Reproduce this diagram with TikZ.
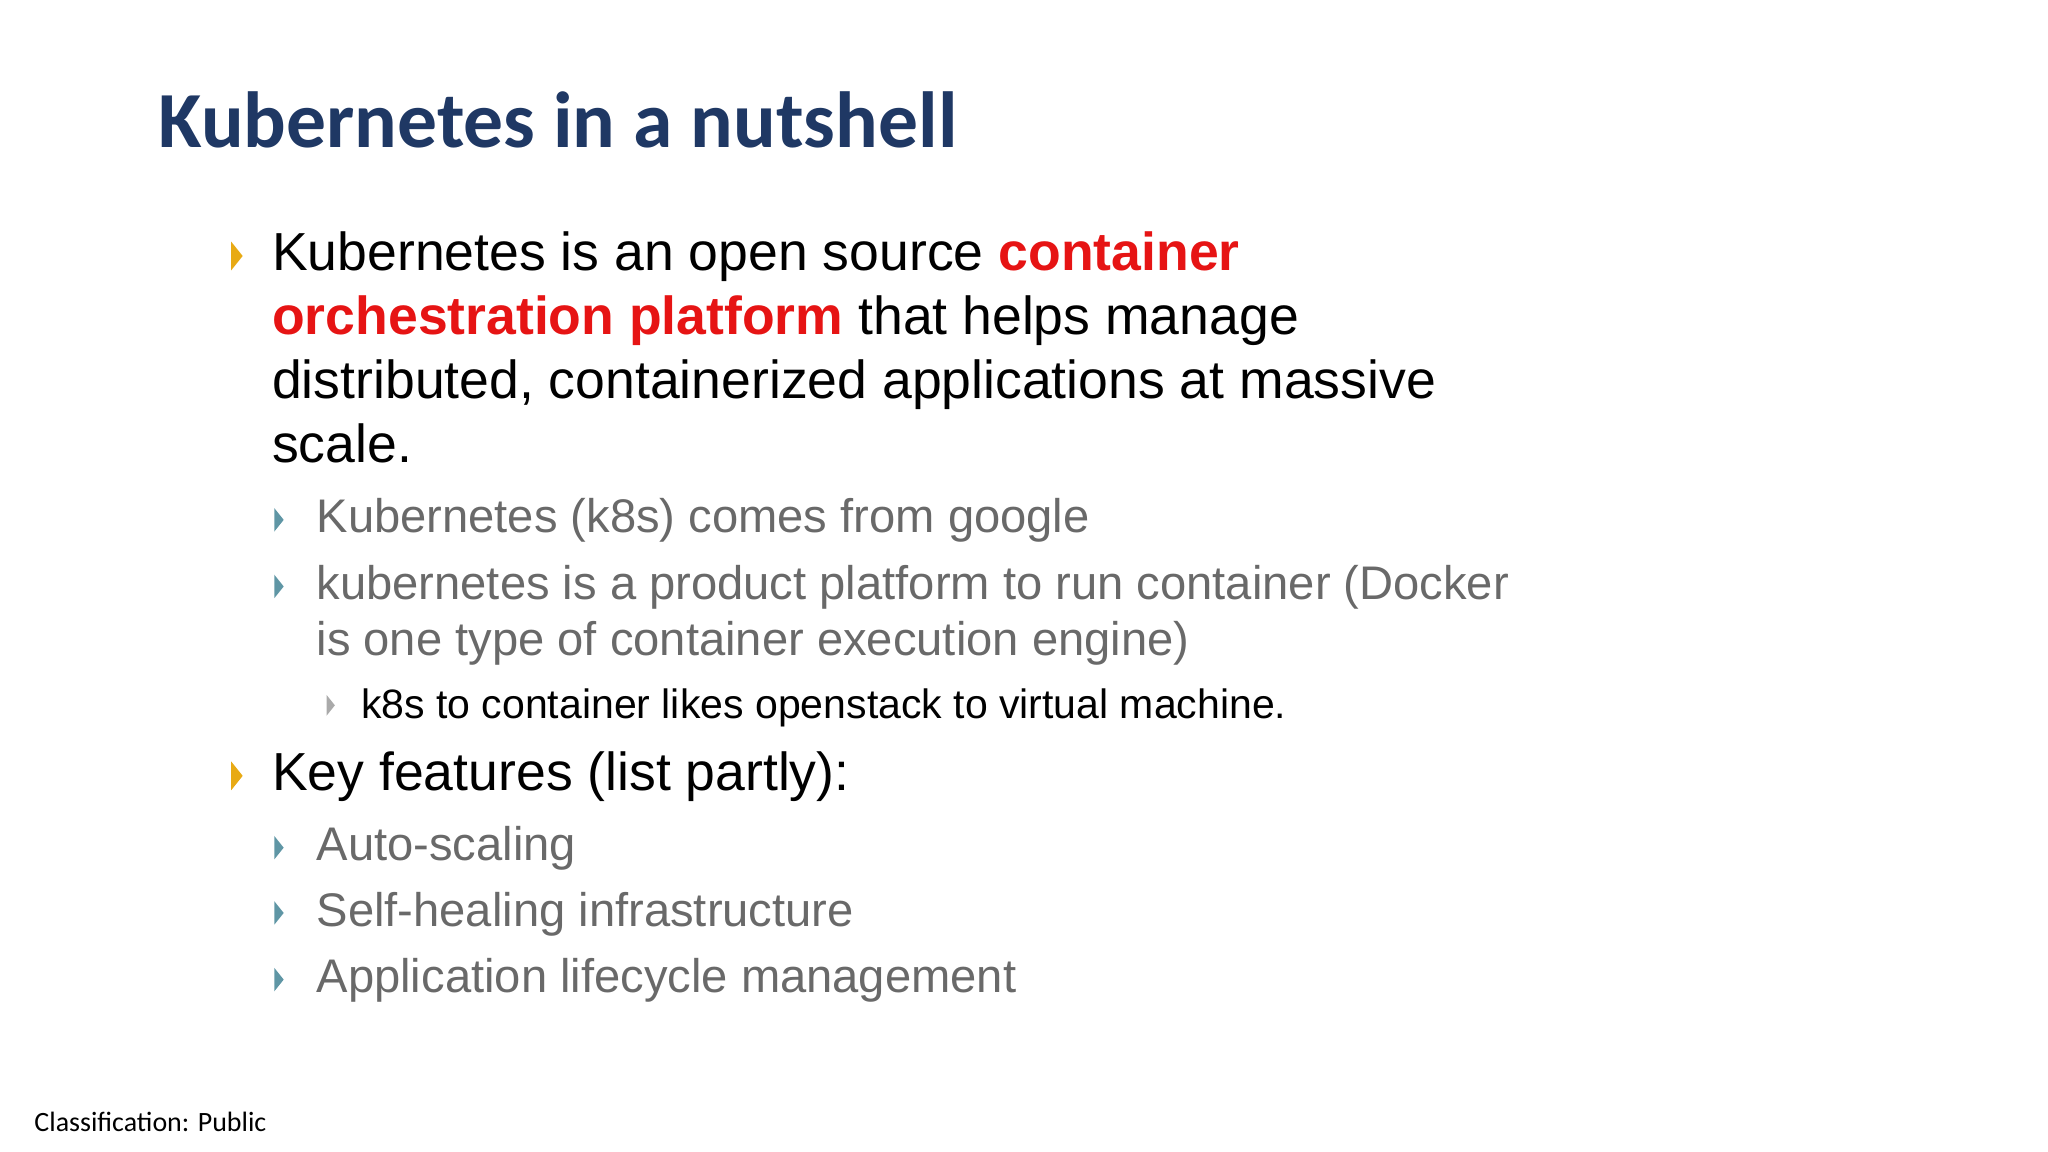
\documentclass[tikz,border=0pt]{standalone}
\usepackage{fontspec}
\setmainfont{Liberation Sans}
\newfontfamily\carlitofont{Carlito}
\definecolor{titleblue}{RGB}{31,56,100}
\definecolor{hired}{RGB}{230,20,20}
\definecolor{subgray}{RGB}{105,105,105}
\definecolor{bylw}{RGB}{232,170,20}
\definecolor{bteal}{RGB}{95,150,165}
\definecolor{bgray}{RGB}{170,170,170}
\begin{document}
\begin{tikzpicture}[x=0.5pt,y=-0.5pt,
  txt/.style={anchor=base west,inner sep=0pt},
  big/.style={txt,font=\fontsize{20.5}{24.5}\selectfont},
  mid/.style={txt,font=\fontsize{18.05}{22}\selectfont,text=subgray},
  sml/.style={txt,font=\fontsize{15.7}{18}\selectfont}]
\useasboundingbox (0,0) rectangle (1568,882);
\newcommand{\tri}[4]{\fill[#1] (#2,#3-#4) -- (#2+0.8*#4,#3) -- (#2,#3+#4) -- cycle;}
\node[txt,font=\carlitofont\bfseries\fontsize{30.45}{36}\selectfont,text=titleblue] (title) at (121,113) {Kubernetes in a nutshell};
\tri{bylw}{177}{196}{11}
\node[big] (l1) at (208,207) {Kubernetes is an open source \textcolor{hired}{\bfseries container}};
\node[big] (l2) at (208,256) {\textcolor{hired}{\bfseries orchestration platform} that helps manage};
\node[big] (l3) at (208,305) {distributed, containerized applications at massive};
\node[big] (l4) at (208,354) {scale.};
\tri{bteal}{210}{398}{9}
\node[mid] (s1) at (242,408) {Kubernetes (k8s) comes from google};
\tri{bteal}{210}{449}{9}
\node[mid] (s2) at (242,459) {kubernetes is a product platform to run container (Docker};
\node[mid] (s3) at (242,502) {is one type of container execution engine)};
\tri{bgray}{250}{540}{8}
\node[sml] (ss1) at (276,550) {k8s to container likes openstack to virtual machine.};
\tri{bylw}{177}{594}{11}
\node[big] (k1) at (208,605) {Key features (list partly):};
\tri{bteal}{210}{649}{9}
\node[mid] (k2) at (242,659) {Auto-scaling};
\tri{bteal}{210}{699}{9}
\node[mid] (k3) at (242,709) {Self-healing infrastructure};
\tri{bteal}{210}{750}{9}
\node[mid] (k4) at (242,760) {Application lifecycle management};
\node[txt,font=\carlitofont\fontsize{10.7}{12}\selectfont] (cls) at (26,866) {Classification: Public};
\end{tikzpicture}
\end{document}
